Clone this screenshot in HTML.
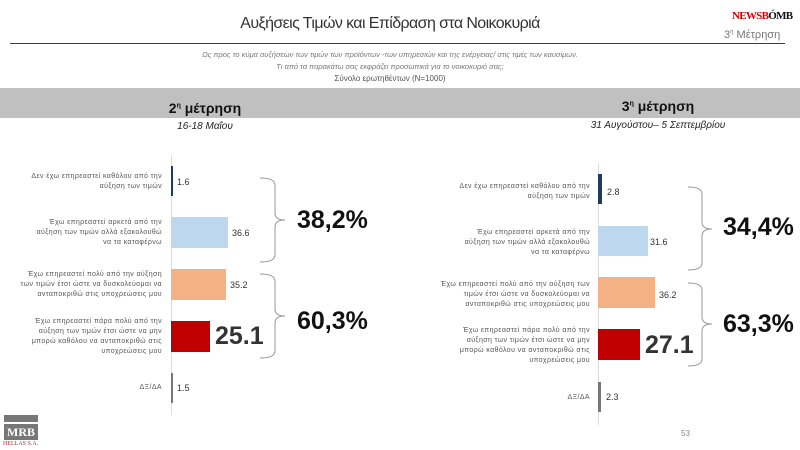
<!DOCTYPE html>
<html><head><meta charset="utf-8"><style>
body{margin:0;width:800px;height:450px;background:#fff;position:relative;overflow:hidden;font-family:"Liberation Sans","DejaVu Sans",sans-serif}
div,span{position:absolute}
.cat{font-size:7px;color:#555;text-align:right;line-height:10px;width:135px;letter-spacing:0.4px}
.v{font-size:9px;color:#333}
.big{font-size:25px;font-weight:bold;color:#333}
.pct{font-size:25px;font-weight:bold;color:#111}
</style></head><body>
<div style="left:0;top:15px;width:780px;text-align:center;font-size:16px;color:#333;letter-spacing:-0.6px">Αυξήσεις Τιμών και Επίδραση στα Νοικοκυριά</div>
<div style="left:732px;top:10px;font-size:11px;font-weight:bold;color:#c00;font-family:'Liberation Serif',serif;letter-spacing:-0.7px">NEWSB<span style="position:static;color:#111">ÓMB</span></div>
<div style="left:724px;top:29px;font-size:11px;color:#777">3<sup style="font-size:6px">η</sup> Μέτρηση</div>
<div style="left:10px;top:43px;width:775px;height:1px;background:#8b1a1a"></div>
<div style="left:0;top:49px;width:780px;text-align:center;font-size:7.5px;color:#777;font-style:italic;line-height:12px">Ως προς το κύμα αυξήσεων των τιμών των προϊόντων -των υπηρεσιών και της ενέργειας/ στις τιμές των καυσίμων.<br>Τι από τα παρακάτω σας εκφράζει προσωπικά για το νοικοκυριό σας;</div>
<div style="left:0;top:74px;width:780px;text-align:center;font-size:8px;color:#555">Σύνολο ερωτηθέντων (N=1000)</div>
<div style="left:0;top:88px;width:800px;height:30px;background:#c0c0c0"></div>
<div style="left:105px;top:100px;width:200px;text-align:center;font-size:14px;font-weight:bold;color:#111">2<sup style="font-size:7px">η</sup> μέτρηση</div>
<div style="left:105px;top:121px;width:200px;text-align:center;font-size:10px;font-style:italic;color:#222">16-18 Μαΐου</div>
<div style="left:558px;top:98px;width:200px;text-align:center;font-size:14px;font-weight:bold;color:#111">3<sup style="font-size:7px">η</sup> μέτρηση</div>
<div style="left:558px;top:120px;width:200px;text-align:center;font-size:10px;font-style:italic;color:#222">31 Αυγούστου– 5 Σεπτεμβρίου</div>

<!-- left -->
<div style="left:171px;top:155px;width:1px;height:260px;background:#ddd"></div>
<div style="left:171px;top:166px;width:2px;height:30px;background:#1f3a5f"></div>
<div style="left:171px;top:217px;width:57px;height:31px;background:#bdd7ee"></div>
<div style="left:171px;top:269px;width:55px;height:31px;background:#f4b183"></div>
<div style="left:171px;top:321px;width:39px;height:31px;background:#c00000"></div>
<div style="left:171px;top:373px;width:2px;height:30px;background:#777"></div>
<div class="cat" style="left:27px;top:172px">Δεν έχω επηρεαστεί καθόλου από την αύξηση των τιμών</div>
<div class="cat" style="left:27px;top:218px">Έχω επηρεαστεί αρκετά από την αύξηση των τιμών αλλά εξακολουθώ να τα καταφέρνω</div>
<div class="cat" style="left:17px;top:270px;width:145px">Έχω επηρεαστεί πολύ από την αύξηση των τιμών έτσι ώστε να δυσκολεύομαι να ανταποκριθώ στις υποχρεώσεις μου</div>
<div class="cat" style="left:27px;top:317px">Έχω επηρεαστεί πάρα πολύ από την αύξηση των τιμών έτσι ώστε να μην μπορώ καθόλου να ανταποκριθώ στις υποχρεώσεις μου</div>
<div class="cat" style="left:27px;top:383px">ΔΞ/ΔΑ</div>
<div class="v" style="left:177px;top:177px">1.6</div>
<div class="v" style="left:232px;top:228px">36.6</div>
<div class="v" style="left:230px;top:280px">35.2</div>
<div class="big" style="left:215px;top:322px">25.1</div>
<div class="v" style="left:177px;top:383px">1.5</div>
<svg style="position:absolute;left:0;top:0" width="800" height="450" fill="none" stroke="#999" stroke-width="1">
<path d="M260 178 Q275 178 275 185 L275 213 Q275 220 285 220 Q275 220 275 227 L275 255 Q275 262 260 262"/>
<path d="M260 274 Q275 274 275 281 L275 309 Q275 316 285 316 Q275 316 275 323 L275 351 Q275 358 260 358"/>
<path d="M688 187 Q702 187 702 194 L702 222 Q702 229 712 229 Q702 229 702 236 L702 263 Q702 270 688 270"/>
<path d="M688 283 Q702 283 702 290 L702 317 Q702 324 712 324 Q702 324 702 331 L702 359 Q702 366 688 366"/>
</svg>
<div class="pct" style="left:297px;top:206px">38,2%</div>
<div class="pct" style="left:297px;top:307px">60,3%</div>

<!-- right -->
<div style="left:598px;top:163px;width:1px;height:262px;background:#ddd"></div>
<div style="left:598px;top:174px;width:4px;height:30px;background:#1f3a5f"></div>
<div style="left:598px;top:226px;width:50px;height:30px;background:#bdd7ee"></div>
<div style="left:598px;top:277px;width:57px;height:31px;background:#f4b183"></div>
<div style="left:598px;top:329px;width:42px;height:31px;background:#c00000"></div>
<div style="left:598px;top:382px;width:3px;height:30px;background:#777"></div>
<div class="cat" style="left:455px;top:182px">Δεν έχω επηρεαστεί καθόλου από την αύξηση των τιμών</div>
<div class="cat" style="left:455px;top:228px">Έχω επηρεαστεί αρκετά από την αύξηση των τιμών αλλά εξακολουθώ να τα καταφέρνω</div>
<div class="cat" style="left:440px;top:280px;width:150px">Έχω επηρεαστεί πολύ από την αύξηση των τιμών έτσι ώστε να δυσκολεύομαι να ανταποκριθώ στις υποχρεώσεις μου</div>
<div class="cat" style="left:455px;top:326px">Έχω επηρεαστεί πάρα πολύ από την αύξηση των τιμών έτσι ώστε να μην μπορώ καθόλου να ανταποκριθώ στις υποχρεώσεις μου</div>
<div class="cat" style="left:455px;top:393px">ΔΞ/ΔΑ</div>
<div class="v" style="left:607px;top:187px">2.8</div>
<div class="v" style="left:650px;top:237px">31.6</div>
<div class="v" style="left:659px;top:290px">36.2</div>
<div class="big" style="left:645px;top:331px">27.1</div>
<div class="v" style="left:606px;top:392px">2.3</div>
<div class="pct" style="left:723px;top:213px">34,4%</div>
<div class="pct" style="left:723px;top:310px">63,3%</div>
<div style="left:681px;top:429px;font-size:8px;color:#888">53</div>

<div style="left:4px;top:415px;width:34px;height:7px;background:#777"></div>
<div style="left:4px;top:424px;width:34px;height:16px;background:#777;color:#fff;font-family:'Liberation Serif',serif;font-weight:bold;font-size:12px;text-align:center;line-height:17px">MRB</div>
<div style="left:3px;top:441px;font-size:6px;color:#a33;font-family:'Liberation Serif',serif">HELLAS S.A.</div>
</body></html>
